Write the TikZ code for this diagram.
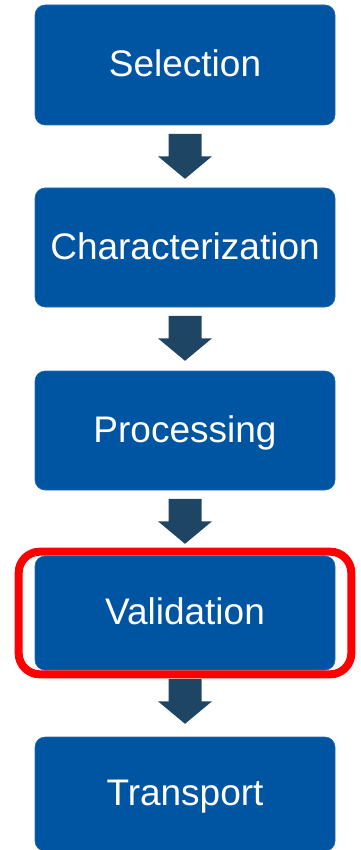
\documentclass[tikz,border=0pt]{standalone}
\usepackage{fontspec}
\setmainfont{Liberation Sans}
\usetikzlibrary{calc}
\definecolor{boxblue}{RGB}{0,85,162}
\definecolor{arrowslate}{RGB}{31,69,101}
\definecolor{hlred}{RGB}{255,0,0}
\tikzset{
  stepbox/.style={rectangle, rounded corners=10pt, fill=boxblue, draw=boxblue!85!white, line width=0.6pt,
    minimum width=300pt, inner sep=0pt, text=white,
    font=\fontsize{37}{44}\selectfont, text height=26.5pt, text depth=3pt},
  blockarrow/.style={fill=arrowslate, draw=none}
}
\newcommand{\blockarr}[1]{%
  \fill[blockarrow] ($(#1.south)+(-16.5,8.5)$) -- ($(#1.south)+(16.5,8.5)$) --
    ($(#1.south)+(16.5,31)$) -- ($(#1.south)+(27,31)$) -- ($(#1.south)+(0,53.5)$) --
    ($(#1.south)+(-27,31)$) -- ($(#1.south)+(-16.5,31)$) -- cycle;}
\begin{document}
\begin{tikzpicture}[x=1pt,y=-1pt]
\useasboundingbox (0,0) rectangle (360,850);
\begin{scope}
\clip (0,0) rectangle (360,850);
\node[stepbox, minimum height=120pt] (sel) at (185,65) {Selection};
\node[stepbox, minimum height=119pt] (cha) at (185,247.5) {Characterization};
\node[stepbox, minimum height=119pt] (pro) at (185,430.5) {Processing};
\node[stepbox, minimum height=114pt] (val) at (185,613) {Validation};
\node[stepbox, minimum height=114pt] (tra) at (185,794) {Transport};
\blockarr{sel}
\blockarr{cha}
\blockarr{pro}
\blockarr{val}
\draw[hlred, line width=8pt, rounded corners=21pt]
  ($(val.north west)+(-16,-4)$) rectangle ($(val.south east)+(16,4)$);
\end{scope}
\end{tikzpicture}
\end{document}
